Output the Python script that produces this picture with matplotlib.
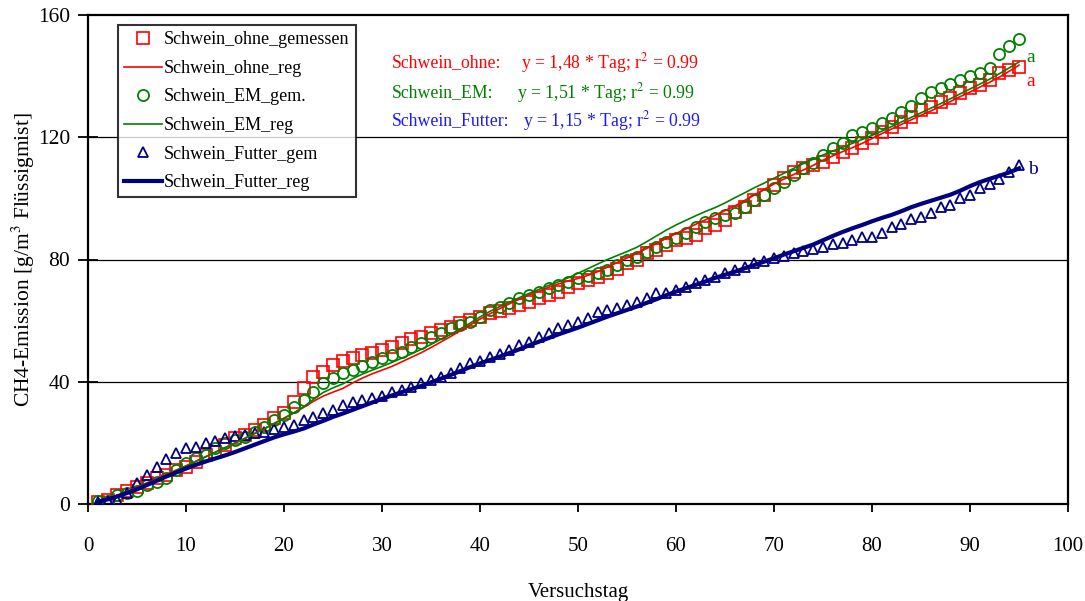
import matplotlib
matplotlib.use("Agg")
import matplotlib.pyplot as plt

plt.rcParams['font.family'] = ['Liberation Serif', 'DejaVu Serif']
plt.rcParams['mathtext.fontset'] = 'stix'

days = list(range(1, 96))

ohne_gem = [0.8, 1.3, 2.9, 4.3, 5.7, 7.0, 8.4, 9.5, 11.1, 12.2,
            13.8, 16.0, 17.1, 19.3, 21.5, 22.6, 24.2, 25.9, 28.0, 29.7,
            33.5, 37.9, 41.7, 43.3, 45.5, 46.7, 47.7, 48.6, 49.5, 50.4,
            51.5, 52.6, 54.0, 54.8, 56.0, 57.0, 58.0, 59.2, 60.2, 61.3,
            62.4, 63.3, 64.2, 65.0, 66.2, 67.3, 68.4, 69.5, 71.0, 72.3,
            73.3, 74.4, 75.5, 77.0, 78.7, 79.8, 82.0, 83.0, 84.8, 86.4,
            87.0, 88.0, 90.3, 91.3, 93.0, 95.7, 97.3, 99.5, 101.0, 104.4,
            106.6, 108.6, 109.8, 111.0, 111.8, 113.7, 115.3, 116.4, 118.0, 119.7,
            121.8, 123.5, 125.1, 126.7, 128.9, 130.0, 131.6, 132.8, 134.4, 136.0,
            137.1, 138.7, 140.9, 142.0, 143.1]

ohne_reg = [0.5, 1.6, 2.8, 4.1, 5.5, 6.9, 8.3, 9.7, 11.1, 12.5,
            14.0, 15.5, 17.0, 18.5, 20.0, 21.5, 23.1, 24.7, 26.4, 28.1,
            29.8, 31.6, 33.6, 35.3, 36.6, 37.8, 39.6, 41.2, 42.6, 43.8,
            45.0, 46.5, 48.0, 49.5, 51.2, 53.0, 54.8, 56.7, 58.6, 60.5,
            62.2, 63.9, 65.5, 67.0, 68.4, 69.6, 70.9, 72.0, 73.0, 73.8,
            74.8, 76.0, 77.5, 79.0, 80.5, 82.0, 83.6, 85.2, 86.9, 88.5,
            90.0, 91.5, 93.0, 94.5, 96.0, 97.5, 99.3, 101.1, 102.9, 104.7,
            106.3, 107.8, 109.3, 110.8, 112.5, 113.9, 115.3, 116.6, 118.0, 119.6,
            121.2, 122.7, 124.2, 125.7, 127.2, 128.6, 130.1, 131.7, 133.3, 134.8,
            136.4, 138.0, 139.7, 141.6, 143.6]

em_gem = [1.1, 1.1, 2.9, 3.6, 4.4, 6.2, 7.3, 8.4, 11.1, 13.3,
          15.0, 16.0, 18.2, 19.9, 20.9, 22.0, 23.7, 25.3, 27.5, 29.1,
          31.8, 34.0, 36.7, 39.5, 41.1, 42.8, 43.8, 45.3, 46.6, 47.7,
          48.8, 49.6, 51.5, 52.6, 54.8, 55.9, 57.5, 58.6, 59.7, 61.3,
          63.4, 64.6, 65.7, 67.3, 68.4, 69.5, 70.6, 71.7, 72.8, 74.0,
          74.6, 75.7, 76.6, 78.2, 79.8, 80.9, 82.6, 84.2, 85.8, 86.9,
          88.8, 90.7, 92.4, 93.5, 94.6, 95.3, 97.3, 99.5, 101.1, 103.3,
          105.5, 107.7, 109.8, 111.5, 114.2, 116.4, 118.2, 120.7, 121.8, 122.9,
          124.6, 126.2, 128.4, 130.2, 132.8, 134.9, 136.0, 137.4, 138.7, 140.0,
          141.1, 142.5, 147.4, 149.8, 152.3]

em_reg = [0.6, 1.6, 2.7, 3.9, 5.2, 6.6, 8.0, 9.4, 10.9, 12.4,
          13.9, 15.4, 16.9, 18.4, 19.9, 21.4, 23.0, 24.6, 26.3, 28.0,
          29.8, 31.8, 34.2, 36.5, 38.0, 39.3, 41.0, 42.5, 43.8, 45.0,
          46.3, 47.7, 49.1, 50.6, 52.2, 53.9, 55.5, 57.3, 59.2, 61.2,
          63.0, 64.6, 66.0, 67.5, 68.9, 70.2, 71.5, 72.7, 74.0, 75.5,
          77.0, 78.5, 80.0, 81.3, 82.6, 84.0, 85.8, 87.7, 89.6, 91.3,
          92.8, 94.3, 95.7, 97.0, 98.5, 100.2, 101.8, 103.5, 105.0, 106.6,
          108.2, 109.8, 111.4, 112.8, 114.2, 115.5, 116.7, 118.0, 119.3, 120.6,
          122.0, 123.5, 125.0, 126.5, 128.0, 129.5, 131.0, 132.6, 134.2, 135.8,
          137.4, 139.0, 140.8, 142.7, 144.6]

futter_gem = [0.8, 1.0, 1.3, 3.5, 6.8, 9.5, 12.2, 14.6, 16.8, 18.2,
              18.5, 19.9, 20.7, 21.5, 22.2, 22.6, 23.3, 23.7, 24.4, 25.3,
              25.9, 27.5, 28.6, 29.7, 30.8, 32.4, 33.5, 34.0, 34.6, 35.3,
              36.7, 37.3, 38.4, 39.7, 40.6, 41.7, 42.8, 44.4, 46.0, 46.9,
              48.2, 49.1, 50.4, 52.0, 53.1, 54.8, 55.9, 57.5, 58.5, 59.5,
              60.8, 62.9, 63.5, 64.0, 65.1, 66.2, 67.3, 68.9, 69.2, 70.0,
              71.1, 72.2, 73.3, 74.4, 75.5, 76.6, 77.7, 78.8, 79.6, 80.4,
              81.2, 82.0, 82.8, 83.5, 84.2, 85.0, 85.5, 86.4, 87.3, 87.5,
              88.8, 90.7, 91.6, 93.2, 93.8, 95.1, 97.1, 97.8, 100.0, 101.1,
              103.3, 104.6, 106.2, 108.7, 110.9]

futter_reg = [0.8, 1.5, 2.5, 3.6, 4.8, 6.2, 7.6, 9.0, 10.3, 11.6,
              12.8, 13.9, 14.9, 15.9, 17.0, 18.2, 19.4, 20.6, 21.8, 22.8,
              23.7, 24.7, 26.0, 27.2, 28.5, 29.6, 30.8, 32.0, 33.2, 34.4,
              35.5, 36.6, 37.6, 38.6, 39.8, 41.0, 42.2, 43.5, 44.8, 46.0,
              47.1, 48.2, 49.4, 50.6, 51.9, 53.1, 54.3, 55.5, 56.6, 57.7,
              58.9, 60.1, 61.3, 62.4, 63.5, 64.6, 65.8, 67.0, 68.3, 69.5,
              70.6, 71.7, 72.8, 74.0, 75.0, 76.0, 77.1, 78.2, 79.3, 80.4,
              81.6, 82.7, 83.8, 84.9, 86.3, 87.7, 89.0, 90.2, 91.3, 92.5,
              93.6, 94.6, 95.8, 97.1, 98.2, 99.2, 100.2, 101.2, 102.5, 104.0,
              105.3, 106.4, 107.4, 108.5, 109.8]

series_labels = ["Schwein_ohne_gemessen", "Schwein_ohne_reg", "Schwein_EM_gem.",
                 "Schwein_EM_reg", "Schwein_Futter_gem", "Schwein_Futter_reg"]
x_ticks = [0, 10, 20, 30, 40, 50, 60, 70, 80, 90, 100]
y_ticks = [0, 40, 80, 120, 160]

RED = "#FF0000"
GREEN = "#008000"
NAVY = "#000080"
BLUE_TXT = "#1a1aff"

W, H = 1085, 601
fig = plt.figure(figsize=(W / 100, H / 100), dpi=100)
ax = fig.add_axes([88 / W, 1 - 504 / H, (1068 - 88) / W, (504 - 15) / H])

for y in y_ticks[1:-1]:
    ax.axhline(y, color="black", lw=0.9, zorder=1)

ax.plot(days, ohne_gem, ls="none", marker="s", ms=8.5, mfc="none", mec=RED, mew=1.2,
        label=series_labels[0], zorder=3)
ax.plot(days, ohne_reg, color=RED, lw=1.2, label=series_labels[1], zorder=4)
ax.plot(days, em_gem, ls="none", marker="o", ms=8, mfc="none", mec=GREEN, mew=1.3,
        label=series_labels[2], zorder=3)
ax.plot(days, em_reg, color=GREEN, lw=1.2, label=series_labels[3], zorder=4)
ax.plot(days, futter_gem, ls="none", marker="^", ms=6.5, mfc="none", mec=NAVY, mew=1.3,
        label=series_labels[4], zorder=3)
ax.plot(days, futter_reg, color=NAVY, lw=3.0, label=series_labels[5], zorder=4)

ax.set_xlim(0, 100)
ax.set_ylim(0, 160)
ax.set_xticks(x_ticks)
ax.set_yticks(y_ticks)
ax.tick_params(axis="x", direction="out", length=6, width=1.3, pad=18, labelsize=15)
ax.tick_params(axis="y", direction="inout", length=14, width=1.3, pad=6, labelsize=15.5)
for s in ax.spines.values():
    s.set_linewidth(1.6)
    s.set_color("black")

ax.set_xlabel("Versuchstag", fontsize=15, labelpad=19)
ax.set_ylabel("CH4-Emission [g/m$^3$ Flüssigmist]", fontsize=15.5)
ax.yaxis.set_label_coords((37 - 88) / 980, 0.5)

leg = ax.legend(loc="upper left", bbox_to_anchor=((118 - 88) / 980, (504 - 25) / 489),
                fontsize=13, frameon=True, fancybox=False, edgecolor="black",
                handlelength=2.1, handletextpad=0.1, labelspacing=0.64, borderpad=0.35,
                borderaxespad=0)
leg.get_frame().set_linewidth(1.5)

def ftxt(px, py, s, color, size=12.8):
    fig.text(px / W, 1 - py / H, s, color=color, fontsize=size, ha="left", va="center")

ftxt(392, 63, "Schwein_ohne:", RED)
ftxt(521, 63, "y = 1,48 * Tag; r$^2$ = 0.99", RED)
ftxt(392, 93, "Schwein_EM:", GREEN)
ftxt(517, 93, "y = 1,51 * Tag; r$^2$ = 0.99", GREEN)
ftxt(392, 121, "Schwein_Futter:", BLUE_TXT)
ftxt(523, 121, "y = 1,15 * Tag; r$^2$ = 0.99", BLUE_TXT)

ftxt(1026, 58, "a", GREEN, 14)
ftxt(1026, 81, "a", RED, 14)
ftxt(1028, 170, "b", NAVY, 14)

fig.savefig("out.png", dpi=100)
